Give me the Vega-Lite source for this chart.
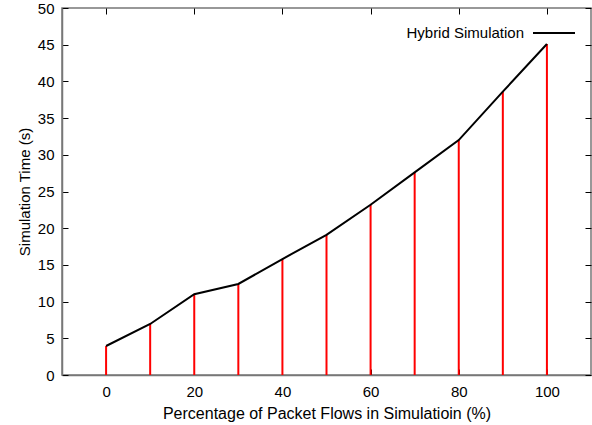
{
  "$schema": "https://vega.github.io/schema/vega-lite/v6.json",
  "autosize": "none",
  "width": 529,
  "height": 367,
  "padding": {"left": 62, "top": 8, "right": 1, "bottom": 50},
  "background": "white",
  "config": {
    "font": "Liberation Sans",
    "view": {"stroke": "#777777", "strokeWidth": 1.5},
    "axis": {
      "grid": false,
      "labelFont": "Liberation Sans",
      "titleFont": "Liberation Sans",
      "labelFontSize": 15,
      "titleFontSize": 15,
      "titleFontWeight": "normal",
      "labelColor": "#000000",
      "titleColor": "#000000",
      "domainColor": "#777777",
      "domainWidth": 1.5,
      "tickColor": "#000000",
      "tickSize": -6,
      "tickWidth": 1
    }
  },
  "data": {
    "values": [
      {"pct": 0, "time": 3.95, "series": "Hybrid Simulation"},
      {"pct": 10, "time": 6.95, "series": "Hybrid Simulation"},
      {"pct": 20, "time": 11.0, "series": "Hybrid Simulation"},
      {"pct": 30, "time": 12.4, "series": "Hybrid Simulation"},
      {"pct": 40, "time": 15.8, "series": "Hybrid Simulation"},
      {"pct": 50, "time": 19.1, "series": "Hybrid Simulation"},
      {"pct": 60, "time": 23.2, "series": "Hybrid Simulation"},
      {"pct": 70, "time": 27.6, "series": "Hybrid Simulation"},
      {"pct": 80, "time": 32.0, "series": "Hybrid Simulation"},
      {"pct": 90, "time": 38.6, "series": "Hybrid Simulation"},
      {"pct": 100, "time": 45.1, "series": "Hybrid Simulation"}
    ]
  },
  "layer": [
    {
      "mark": {"type": "rule", "color": "#ff0000", "strokeWidth": 2},
      "encoding": {
        "x": {
          "field": "pct", "type": "quantitative",
          "scale": {"domain": [-10, 110], "nice": false, "zero": false},
          "axis": {"values": [0, 20, 40, 60, 80, 100], "labelPadding": 15, "title": "Percentage of Packet Flows in Simulatioin (%)", "titleFontSize": 16, "titlePadding": 6}
        },
        "y": {
          "field": "time", "type": "quantitative",
          "scale": {"domain": [0, 50], "nice": false},
          "axis": {"values": [0, 5, 10, 15, 20, 25, 30, 35, 40, 45, 50], "labelPadding": 14, "title": "Simulation Time (s)", "titlePadding": 5}
        },
        "y2": {"datum": 0}
      }
    },
    {
      "mark": {"type": "line", "strokeWidth": 2},
      "encoding": {
        "x": {
          "field": "pct", "type": "quantitative",
          "scale": {"domain": [-10, 110], "nice": false, "zero": false},
          "axis": {"orient": "top", "values": [0, 20, 40, 60, 80, 100], "labels": false, "title": null, "domain": false}
        },
        "y": {
          "field": "time", "type": "quantitative",
          "scale": {"domain": [0, 50], "nice": false},
          "axis": {"orient": "right", "values": [0, 5, 10, 15, 20, 25, 30, 35, 40, 45, 50], "labels": false, "title": null, "domain": false}
        },
        "color": {
          "field": "series", "type": "nominal",
          "scale": {"domain": ["Hybrid Simulation"], "range": ["#000000"]},
          "legend": {
            "title": null,
            "orient": "none",
            "legendX": 470,
            "legendY": 3,
            "symbolType": "stroke",
            "symbolSize": 1764,
            "symbolStrokeWidth": 2,
            "labelAlign": "right",
            "labelOffset": -52,
            "labelFont": "Liberation Sans",
            "labelFontSize": 15,
            "labelColor": "#000000"
          }
        }
      }
    }
  ],
  "resolve": {"axis": {"x": "independent", "y": "independent"}}
}
